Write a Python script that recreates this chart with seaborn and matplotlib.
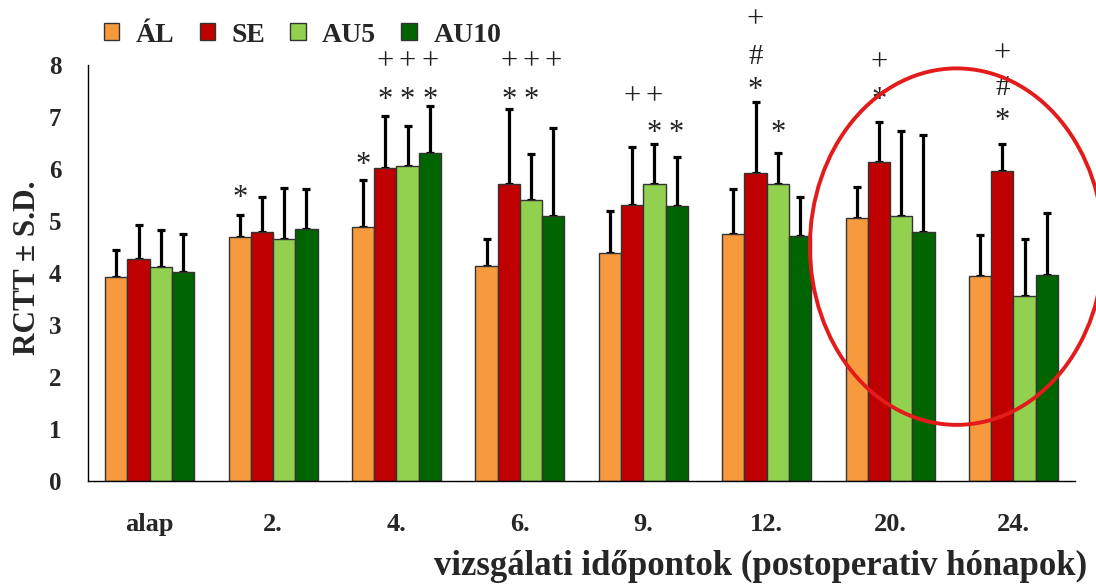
import numpy as np
import pandas as pd
import seaborn as sns
import matplotlib.pyplot as plt
import matplotlib.transforms as mtransforms
from matplotlib.patches import Ellipse, Patch

sns.set_style("white")
plt.rcParams['font.family'] = ['Liberation Serif', 'DejaVu Serif']

# data
idopontok = ["alap", "2.", "4.", "6.", "9.", "12.", "20.", "24."]
csoportok = ["ÁL", "SE", "AU5", "AU10"]
szinek = ["#F79A3E", "#C00000", "#92D050", "#006400"]

al_mean = [3.93, 4.69, 4.88, 4.14, 4.38, 4.76, 5.07, 3.95]
al_sd = [0.51, 0.43, 0.92, 0.52, 0.81, 0.85, 0.59, 0.78]
se_mean = [4.28, 4.79, 6.03, 5.71, 5.31, 5.92, 6.13, 5.97]
se_sd = [0.64, 0.68, 1.00, 1.44, 1.12, 1.37, 0.78, 0.51]
au5_mean = [4.12, 4.66, 6.06, 5.40, 5.71, 5.71, 5.10, 3.56]
au5_sd = [0.71, 0.97, 0.77, 0.89, 0.77, 0.60, 1.63, 1.09]
au10_mean = [4.03, 4.85, 6.31, 5.10, 5.29, 4.71, 4.80, 3.97]
au10_sd = [0.73, 0.76, 0.90, 1.70, 0.95, 0.76, 1.86, 1.18]

means = [al_mean, se_mean, au5_mean, au10_mean]
sds = [al_sd, se_sd, au5_sd, au10_sd]

# significance marks: (time point, group, symbol, height)
jelek = [
    ("2.", "ÁL", "*", 5.60),
    ("4.", "ÁL", "*", 6.24),
    ("4.", "SE", "*", 7.49), ("4.", "AU5", "*", 7.49), ("4.", "AU10", "*", 7.49),
    ("4.", "SE", "+", 8.06), ("4.", "AU5", "+", 8.06), ("4.", "AU10", "+", 8.06),
    ("6.", "SE", "*", 7.48), ("6.", "AU5", "*", 7.48),
    ("6.", "SE", "+", 8.06), ("6.", "AU5", "+", 8.06), ("6.", "AU10", "+", 8.06),
    ("9.", "SE", "+", 7.39), ("9.", "AU5", "+", 7.39),
    ("9.", "AU5", "*", 6.85), ("9.", "AU10", "*", 6.85),
    ("12.", "SE", "+", 8.87), ("12.", "SE", "#", 8.15), ("12.", "SE", "*", 7.67),
    ("12.", "AU5", "*", 6.85),
    ("20.", "SE", "+", 8.04), ("20.", "SE", "*", 7.48),
    ("24.", "SE", "+", 8.23), ("24.", "SE", "#", 7.56), ("24.", "SE", "*", 7.08),
]
jel_meret = {"*": 22, "+": 22, "#": 21}
jel_eltolas = {"*": -6, "+": 0, "#": 0}  # points, asterisk glyph sits high

rows = []
for cs, m in zip(csoportok, means):
    for t, v in zip(idopontok, m):
        rows.append({"idopont": t, "csoport": cs, "rctt": v})
df = pd.DataFrame(rows)

fig = plt.figure(figsize=(10.96, 5.88), dpi=100)
ax = fig.add_axes([0.0803, 0.182, 0.9007, 0.707])

sns.barplot(data=df, x="idopont", y="rctt", hue="csoport", order=idopontok,
            hue_order=csoportok, palette=szinek, saturation=1, width=0.72,
            errorbar=None, edgecolor="#333333", linewidth=1, legend=False,
            ax=ax, zorder=2)

# upward-only error bars
bar_x = {}
bar_conts = list(ax.containers)
for j, cont in enumerate(bar_conts):
    xs = [b.get_x() + b.get_width() / 2 for b in cont]
    for t, x in zip(idopontok, xs):
        bar_x[(t, csoportok[j])] = x
    ax.errorbar(xs, means[j], yerr=[np.zeros(len(xs)), sds[j]], fmt="none",
                ecolor="black", elinewidth=2.3, capsize=3, capthick=2.3, zorder=1)

for t, cs, sym, y in jelek:
    tr = mtransforms.offset_copy(ax.transData, fig=fig, y=jel_eltolas[sym], units="points")
    ax.text(bar_x[(t, cs)], y, sym, ha="center", va="center", transform=tr,
            fontsize=jel_meret[sym], color="#222222", clip_on=False)

ax.set_ylim(0, 8)
ax.set_xlim(-0.5, 7.5)
ax.set_yticks(range(0, 9))
ax.set_xticks(np.arange(-0.5, 8, 1))
ax.set_xticklabels([])
ax.set_xticks(range(8), minor=True)
ax.set_xticklabels(idopontok, minor=True, fontweight="bold", fontsize=19)
ax.tick_params(axis="x", which="major", length=8, direction="out", width=1)
ax.tick_params(axis="x", which="minor", length=0, pad=23)
ax.tick_params(axis="y", length=7, direction="out", width=1, pad=12, labelsize=18)
for lab in ax.get_yticklabels():
    lab.set_fontweight("bold")
ax.set_xlabel("")
ax.set_ylabel("")
sns.despine(ax=ax)
for s in ["left", "bottom"]:
    ax.spines[s].set_color("black")
    ax.spines[s].set_linewidth(1)

fig.text(28 / 1096, 1 - 268 / 588, "RCTT ± S.D.", rotation=90, ha="center",
         va="center", fontsize=22.5, fontweight="bold")
fig.text(1087 / 1096, 1 - 566 / 588, "vizsgálati időpontok (postoperativ hónapok)",
         ha="right", va="center", fontsize=25, fontweight="bold")

kezek = [Patch(facecolor=c, edgecolor="#333333") for c in szinek]
fig.legend(kezek, csoportok, loc="center left", bbox_to_anchor=(104 / 1096, 1 - 35 / 588),
           ncol=4, frameon=False, borderpad=0, borderaxespad=0,
           handlelength=0.55, handleheight=0.55, handletextpad=0.6,
           columnspacing=0.9, prop={"weight": "bold", "size": 20})

ax.add_patch(Ellipse((6.54, 4.51), 2.38, 6.86, fill=False, edgecolor="#E31B1B",
                     linewidth=2.8, clip_on=False, zorder=5))

fig.savefig("out.png", dpi=100)
